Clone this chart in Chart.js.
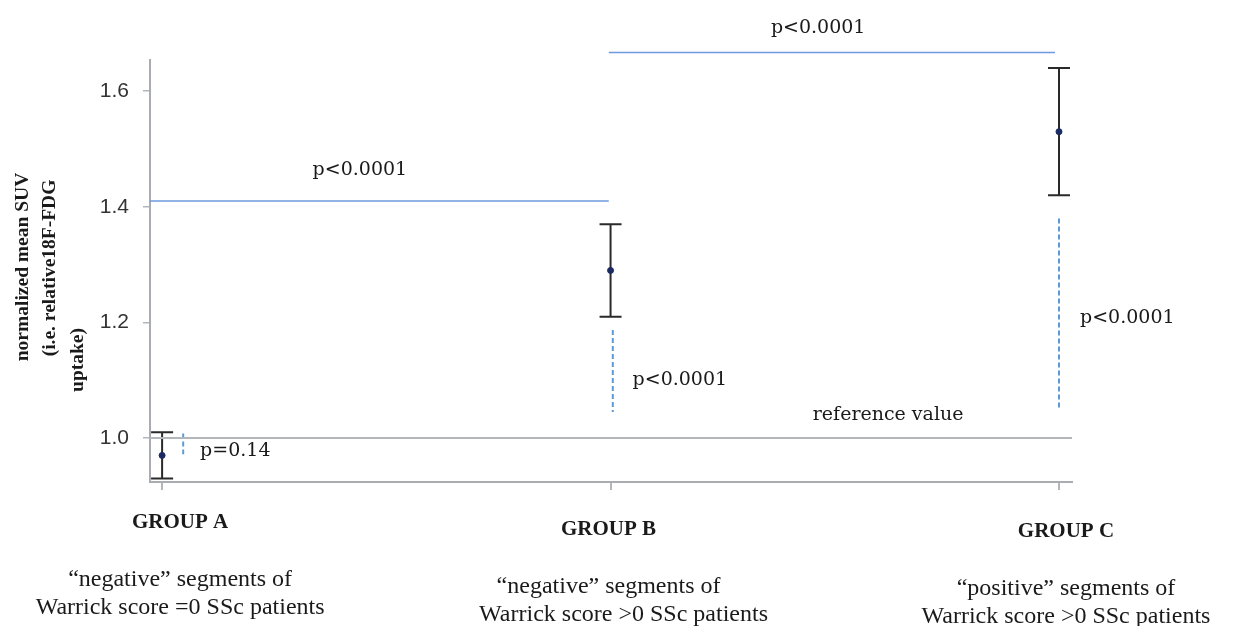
<!DOCTYPE html>
<html lang="en">
<head>
  <meta charset="UTF-8">
  <title>Normalized mean SUV by group</title>
  <script src="https://cdn.jsdelivr.net/npm/chart.js"></script>
  <style>
    body { margin: 0; background: #fff; }
    canvas { display: block; }
  </style>
</head>
<body>
  <canvas id="suvChart" width="1233" height="626"></canvas>

  <script>
    // data
    const groups = ['GROUP A', 'GROUP B', 'GROUP C'];
    const descriptions = [
      ['\u201cnegative\u201d segments of', 'Warrick score =0 SSc patients'],
      ['\u201cnegative\u201d segments of', 'Warrick score >0 SSc patients'],
      ['\u201cpositive\u201d segments of', 'Warrick score >0 SSc patients']
    ];
    const means = [0.97, 1.29, 1.53];
    const lower = [0.93, 1.21, 1.42];
    const upper = [1.01, 1.37, 1.64];
    const yTicks = [1.0, 1.2, 1.4, 1.6];
    const refValue = 1.0;
    // comparison of each group against the reference value
    const refPValues = ['p=0.14', 'p<0.0001', 'p<0.0001'];
    const refSpanTop = [1.008, 1.187, 1.38];
    const refSpanBottom = [0.972, 1.045, 1.05];
    // pairwise comparisons A-B and B-C
    const pairPValues = ['p<0.0001', 'p<0.0001'];
    const pairLevels = [1.41, 1.667];

    const xMin = -0.027, xMax = 2.029;
    const yMin = 0.924, yMax = 1.654;

    const serif = "'Liberation Serif', 'DejaVu Serif', serif";
    const wideSerif = "'DejaVu Serif', serif";

    const datasets = [
      {
        type: 'line',
        data: [{ x: xMin, y: refValue }, { x: xMax, y: refValue }],
        borderColor: '#b3b7bb', borderWidth: 2, pointRadius: 0
      },
      {
        type: 'line',
        data: [{ x: xMin, y: pairLevels[0] }, { x: 0.996, y: pairLevels[0] }],
        borderColor: '#6e9ade', borderWidth: 1.5, pointRadius: 0, clip: false
      },
      {
        type: 'line',
        data: [{ x: 0.996, y: pairLevels[1] }, { x: 1.991, y: pairLevels[1] }],
        borderColor: '#6e9ade', borderWidth: 1.5, pointRadius: 0, clip: false
      }
    ];

    const dashX = [0.047, 1.005, 2.0];
    dashX.forEach((x, i) => {
      datasets.push({
        type: 'line',
        data: [{ x: x, y: refSpanTop[i] }, { x: x, y: refSpanBottom[i] }],
        borderColor: '#5b9bd5', borderWidth: 2, borderDash: [5, 3], pointRadius: 0
      });
    });

    datasets.push({
      type: 'scatter',
      data: means.map((m, i) => ({ x: i, y: m })),
      backgroundColor: '#1b2a63', borderColor: '#1b2a63', pointRadius: 3
    });

    // whiskers drawn under the mean points
    const errorBars = {
      id: 'errorBars',
      beforeDatasetsDraw(chart) {
        const { ctx, scales: { x, y } } = chart;
        ctx.save();
        ctx.strokeStyle = '#2a2a2a';
        ctx.lineWidth = 2;
        means.forEach((m, i) => {
          const px = x.getPixelForValue(i);
          const top = y.getPixelForValue(upper[i]);
          const bot = y.getPixelForValue(lower[i]);
          ctx.beginPath();
          ctx.moveTo(px, top); ctx.lineTo(px, bot);
          ctx.moveTo(px - 11, top); ctx.lineTo(px + 11, top);
          ctx.moveTo(px - 11, bot); ctx.lineTo(px + 11, bot);
          ctx.stroke();
        });
        ctx.restore();
      }
    };

    const textLayer = {
      id: 'textLayer',
      afterDraw(chart) {
        const { ctx, scales: { x, y } } = chart;
        ctx.save();
        ctx.fillStyle = '#1a1a1a';
        ctx.textBaseline = 'middle';

        // p values
        ctx.font = '19px ' + wideSerif;
        ctx.textAlign = 'center';
        ctx.fillText(pairPValues[0], x.getPixelForValue(0.441), y.getPixelForValue(1.463));
        ctx.fillText(pairPValues[1], x.getPixelForValue(1.463), y.getPixelForValue(1.709));
        ctx.textAlign = 'left';
        ctx.fillText(refPValues[0], x.getPixelForValue(0) + 38, y.getPixelForValue(0.978));
        ctx.fillText(refPValues[1], x.getPixelForValue(1) + 22, y.getPixelForValue(1.10));
        ctx.fillText(refPValues[2], x.getPixelForValue(2) + 21, y.getPixelForValue(1.207));
        ctx.textAlign = 'center';
        ctx.fillText('reference value', x.getPixelForValue(1.619), y.getPixelForValue(1.04));

        // group labels and descriptions (second line of B sits a bit to the right)
        const groupOffsets = [[18, 523, 0], [-2, 530, 15], [7, 532, 0]];
        groups.forEach((g, i) => {
          const cx = x.getPixelForValue(i) + groupOffsets[i][0];
          const gy = groupOffsets[i][1];
          ctx.font = 'bold 21px ' + serif;
          ctx.fillText(g, cx, gy);
          ctx.font = '24px ' + serif;
          ctx.fillText(descriptions[i][0], cx, gy + 57);
          ctx.fillText(descriptions[i][1], cx + groupOffsets[i][2], gy + 85);
        });

        // y axis title, rotated
        const titleLines = [
          ['normalized mean SUV', 23, 267],
          ['(i.e. relative18F-FDG', 50, 268],
          ['uptake)', 78, 360]
        ];
        ctx.font = 'bold 19.5px ' + serif;
        titleLines.forEach(([t, tx, ty]) => {
          ctx.save();
          ctx.translate(tx, ty);
          ctx.rotate(-Math.PI / 2);
          ctx.fillText(t, 0, 0);
          ctx.restore();
        });
        ctx.restore();
      }
    };

    new Chart(document.getElementById('suvChart'), {
      data: { datasets: datasets },
      options: {
        responsive: false,
        animation: false,
        layout: { padding: { top: 60, right: 161, left: 0, bottom: 0 } },
        plugins: { legend: { display: false }, tooltip: { enabled: false } },
        scales: {
          x: {
            type: 'linear',
            min: xMin, max: xMax,
            afterBuildTicks: s => { s.ticks = [0, 1, 2].map(v => ({ value: v })); },
            afterFit: s => { s.height = 144; },
            ticks: { display: false },
            grid: { drawOnChartArea: false, drawTicks: true, tickLength: 8, color: '#b3b7bb', lineWidth: 2 },
            border: { color: '#a9adb1', width: 2 }
          },
          y: {
            type: 'linear',
            min: yMin, max: yMax,
            afterBuildTicks: s => { s.ticks = yTicks.map(v => ({ value: v })); },
            afterFit: s => { s.width = 150; },
            ticks: {
              padding: 14,
              color: '#333333',
              font: { family: "'Liberation Sans', Arial, sans-serif", size: 21 },
              callback: v => v.toFixed(1)
            },
            grid: { drawOnChartArea: false, drawTicks: true, tickLength: 7, color: '#b3b7bb', lineWidth: 1.5 },
            border: { color: '#a9adb1', width: 2 }
          }
        }
      },
      plugins: [errorBars, textLayer]
    });
  </script>
</body>
</html>
